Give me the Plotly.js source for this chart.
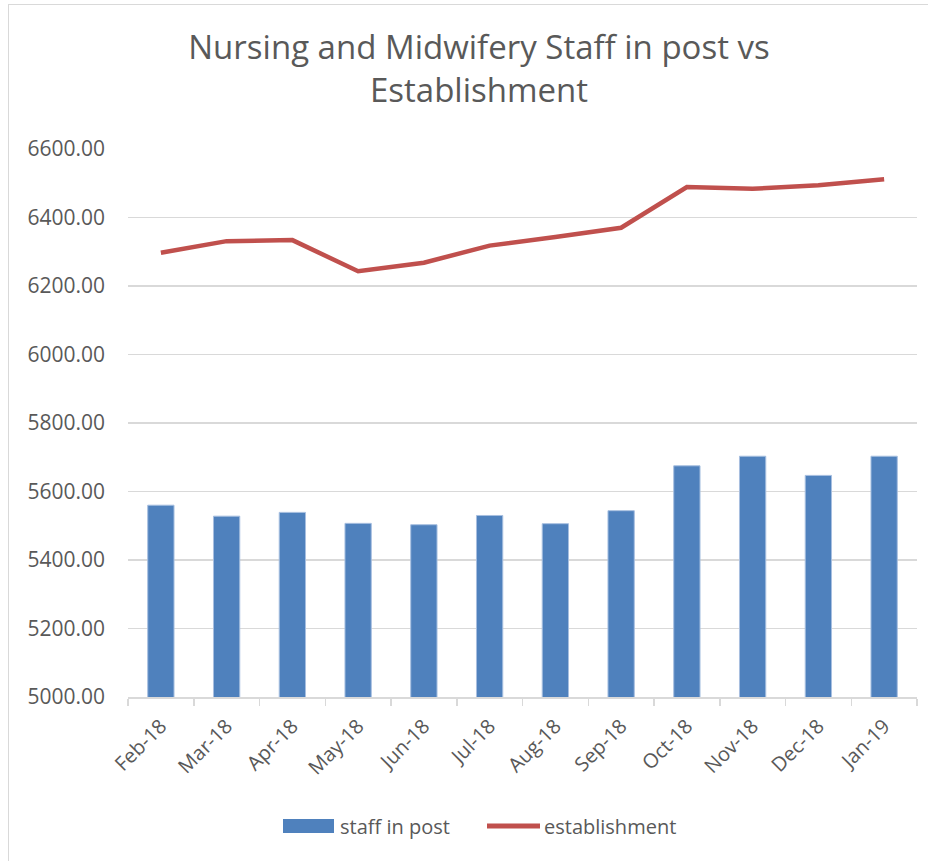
<!DOCTYPE html>
<html>
<head>
<meta charset="utf-8">
<script src="https://cdn.plot.ly/plotly-3.0.1.min.js"></script>
<style>
html,body{margin:0;padding:0;background:#fff;overflow:hidden;}
#wrap{position:relative;width:928px;height:861px;}
#frame{position:absolute;left:8px;top:4px;width:940px;height:880px;border:1.5px solid #d9d9d9;box-sizing:border-box;pointer-events:none;}
#chart{position:absolute;left:0;top:0;width:928px;height:861px;}
</style>
</head>
<body>
<div id="wrap">
<div id="chart"></div>
<div id="frame"></div>
</div>
<script>
const months = ["Feb-18","Mar-18","Apr-18","May-18","Jun-18","Jul-18","Aug-18","Sep-18","Oct-18","Nov-18","Dec-18","Jan-19"];
const staffInPost = [5560, 5528, 5539, 5507, 5503, 5530, 5506, 5544, 5675, 5703, 5647, 5703];
const establishment = [6297, 6331, 6334, 6243, 6268, 6318, 6343, 6370, 6489, 6484, 6494, 6512];
const yTicks = [5000, 5200, 5400, 5600, 5800, 6000, 6200, 6400, 6600];
const seriesNames = ["staff in post", "establishment"];

const txt = "#595959";
const font = "Open Sans, Lato, sans-serif";
const barColor = "#4f81bd";
const lineColor = "#c0504d";

// plot area in pixels (for placing the legend keys below it)
const plotL = 128, plotR = 917, plotT = 149, plotB = 697;
const px2x = p => (p - plotL) / (plotR - plotL);
const px2y = p => (plotB - p) / (plotB - plotT);

const traces = [
  {
    type: "bar", name: seriesNames[0], x: months, y: staffInPost,
    marker: {color: barColor, line: {color: "#a7bfe0", width: 1}},
    hoverinfo: "x+y"
  },
  {
    type: "scatter", mode: "lines", name: seriesNames[1], x: months, y: establishment,
    line: {color: lineColor, width: 4.5, shape: "linear"},
    hoverinfo: "x+y"
  }
];

const legY = px2y(826);
const layout = {
  width: 928, height: 861,
  paper_bgcolor: "#ffffff", plot_bgcolor: "#ffffff",
  margin: {l: plotL, r: 928 - plotR, t: plotT, b: 861 - plotB},
  font: {family: font, color: txt, size: 20},
  title: {
    text: "Nursing and Midwifery Staff in post vs<br>Establishment",
    font: {family: font, size: 33, color: txt},
    x: 479/928, xref: "container", xanchor: "center",
    y: 1 - 59/861, yref: "container", yanchor: "top"
  },
  bargap: 0.6,
  showlegend: false,
  xaxis: {
    type: "category",
    tickangle: -45,
    tickfont: {family: font, size: 20, color: txt},
    showgrid: false,
    showline: true, linecolor: "#d9d9d9", linewidth: 1.5,
    ticks: "outside", tickson: "boundaries", ticklen: 7, tickcolor: "#d9d9d9", tickwidth: 1.5,
    ticklabelstandoff: 8,
    fixedrange: true
  },
  yaxis: {
    range: [5000, 6600],
    tickvals: yTicks,
    ticktext: yTicks.map(v => v.toFixed(2)),
    tickfont: {family: font, size: 21, color: txt},
    showgrid: true, gridcolor: "#d9d9d9", gridwidth: 1.5,
    zeroline: false, showline: false,
    ticks: "", ticklabelstandoff: 22,
    fixedrange: true
  },
  shapes: [
    {type: "rect", xref: "paper", yref: "paper",
     x0: px2x(283), x1: px2x(334), y0: px2y(833), y1: px2y(819),
     fillcolor: barColor, line: {width: 0}},
    {type: "line", xref: "paper", yref: "paper",
     x0: px2x(487), x1: px2x(540), y0: legY, y1: legY,
     line: {color: lineColor, width: 5}}
  ],
  annotations: [
    {xref: "paper", yref: "paper", x: px2x(338), y: legY, xanchor: "left", yanchor: "middle",
     text: seriesNames[0], showarrow: false, font: {family: font, size: 20, color: txt}},
    {xref: "paper", yref: "paper", x: px2x(542), y: legY, xanchor: "left", yanchor: "middle",
     text: seriesNames[1], showarrow: false, font: {family: font, size: 20, color: txt}}
  ]
};

Plotly.newPlot("chart", traces, layout, {displayModeBar: false, staticPlot: true});
</script>
</body>
</html>
